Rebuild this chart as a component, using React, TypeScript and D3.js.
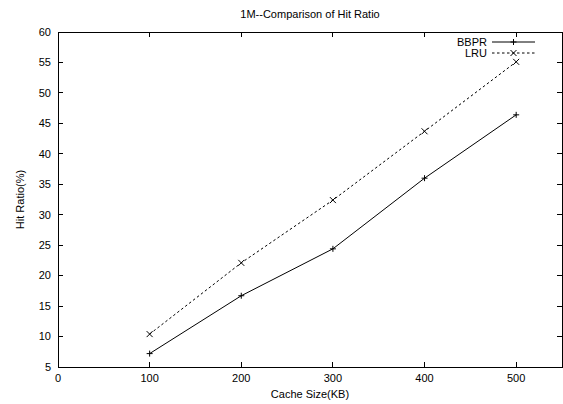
import * as React from 'react';
import {useEffect, useRef} from 'react';
import * as d3 from 'd3';

const width = 563;
const height = 404;
const margin = {top: 32, right: 1, bottom: 37, left: 58};

const cacheSizes = [100, 200, 300, 400, 500];
const bbprValues = [7.2, 16.7, 24.4, 36.0, 46.4];
const lruValues = [10.4, 22.1, 32.4, 43.7, 55.1];
const xTicks = [0, 100, 200, 300, 400, 500];
const yTicks = [5, 10, 15, 20, 25, 30, 35, 40, 45, 50, 55, 60];

const font = '"Liberation Sans", Arial, Helvetica, sans-serif';

export default function App() {
  const ref = useRef<SVGSVGElement>(null);

  useEffect(() => {
    const svg = d3.select(ref.current);
    svg.selectAll('*').remove();

    const x = d3.scaleLinear().domain([0, 550]).range([margin.left, width - margin.right]);
    const y = d3.scaleLinear().domain([5, 60]).range([height - margin.bottom, margin.top]);
    const x0 = x.range()[0], x1 = x.range()[1];
    const y0 = y.range()[0], y1 = y.range()[1];
    const tick = 5;

    svg.append('rect').attr('width', width).attr('height', height).attr('fill', '#fff');

    // ticks on all four sides, pointing inwards (gnuplot mirror style)
    const g = svg.append('g').attr('stroke', '#000').attr('stroke-width', 1).attr('shape-rendering', 'crispEdges');
    yTicks.forEach(t => {
      g.append('line').attr('x1', x0).attr('x2', x0 + tick).attr('y1', y(t)).attr('y2', y(t));
      g.append('line').attr('x1', x1).attr('x2', x1 - tick).attr('y1', y(t)).attr('y2', y(t));
    });
    xTicks.forEach(t => {
      g.append('line').attr('x1', x(t)).attr('x2', x(t)).attr('y1', y0).attr('y2', y0 - tick);
      g.append('line').attr('x1', x(t)).attr('x2', x(t)).attr('y1', y1).attr('y2', y1 + tick);
    });
    g.append('rect')
      .attr('x', x0).attr('y', y1)
      .attr('width', x1 - x0).attr('height', y0 - y1)
      .attr('fill', 'none');

    const labels = svg.append('g').style('font', `11px ${font}`).attr('fill', '#000');
    yTicks.forEach(t => {
      labels.append('text').attr('x', x0 - 7).attr('y', y(t)).attr('dy', '0.35em')
        .attr('text-anchor', 'end').text(t);
    });
    xTicks.forEach(t => {
      labels.append('text').attr('x', x(t)).attr('y', y0 + 15)
        .attr('text-anchor', 'middle').text(t);
    });

    labels.append('text').attr('x', (x0 + x1) / 2).attr('y', 18)
      .attr('text-anchor', 'middle').text('1M--Comparison of Hit Ratio');
    labels.append('text').attr('x', (x0 + x1) / 2).attr('y', 398)
      .attr('text-anchor', 'middle').text('Cache Size(KB)');
    labels.append('text')
      .attr('transform', `translate(24, ${(y0 + y1) / 2}) rotate(-90)`)
      .attr('text-anchor', 'middle').text('Hit Ratio(%)');

    const line = d3.line<number>()
      .x((_, i) => x(cacheSizes[i]))
      .y(d => y(d));

    const series = [
      {name: 'BBPR', values: bbprValues, dash: null, marker: 'plus'},
      {name: 'LRU', values: lruValues, dash: '2.5,2.5', marker: 'cross'}
    ];

    const m = 3;
    const drawMarker = (sel: any, cx: number, cy: number, kind: string) => {
      if (kind === 'plus') {
        sel.append('path').attr('d', `M${cx - m},${cy}H${cx + m}M${cx},${cy - m}V${cy + m}`);
      } else {
        sel.append('path').attr('d', `M${cx - m},${cy - m}L${cx + m},${cy + m}M${cx - m},${cy + m}L${cx + m},${cy - m}`);
      }
    };

    series.forEach((s, k) => {
      const sg = svg.append('g').attr('stroke', '#000').attr('fill', 'none').attr('stroke-width', 1);
      sg.append('path').attr('d', line(s.values)).attr('stroke-dasharray', s.dash);
      s.values.forEach((v, i) => drawMarker(sg, x(cacheSizes[i]), y(v), s.marker));

      // legend entry
      const ly = 42 + k * 11;
      labels.append('text').attr('x', 487).attr('y', ly).attr('dy', '0.35em')
        .attr('text-anchor', 'end').text(s.name);
      sg.append('line').attr('x1', 492).attr('x2', 535).attr('y1', ly).attr('y2', ly)
        .attr('stroke-dasharray', s.dash);
      drawMarker(sg, 513.5, ly, s.marker);
    });
  }, []);

  return (
    <svg ref={ref} width={width} height={height}
      style={{position: 'absolute', left: 0, top: 0, display: 'block'}}/>
  );
}
